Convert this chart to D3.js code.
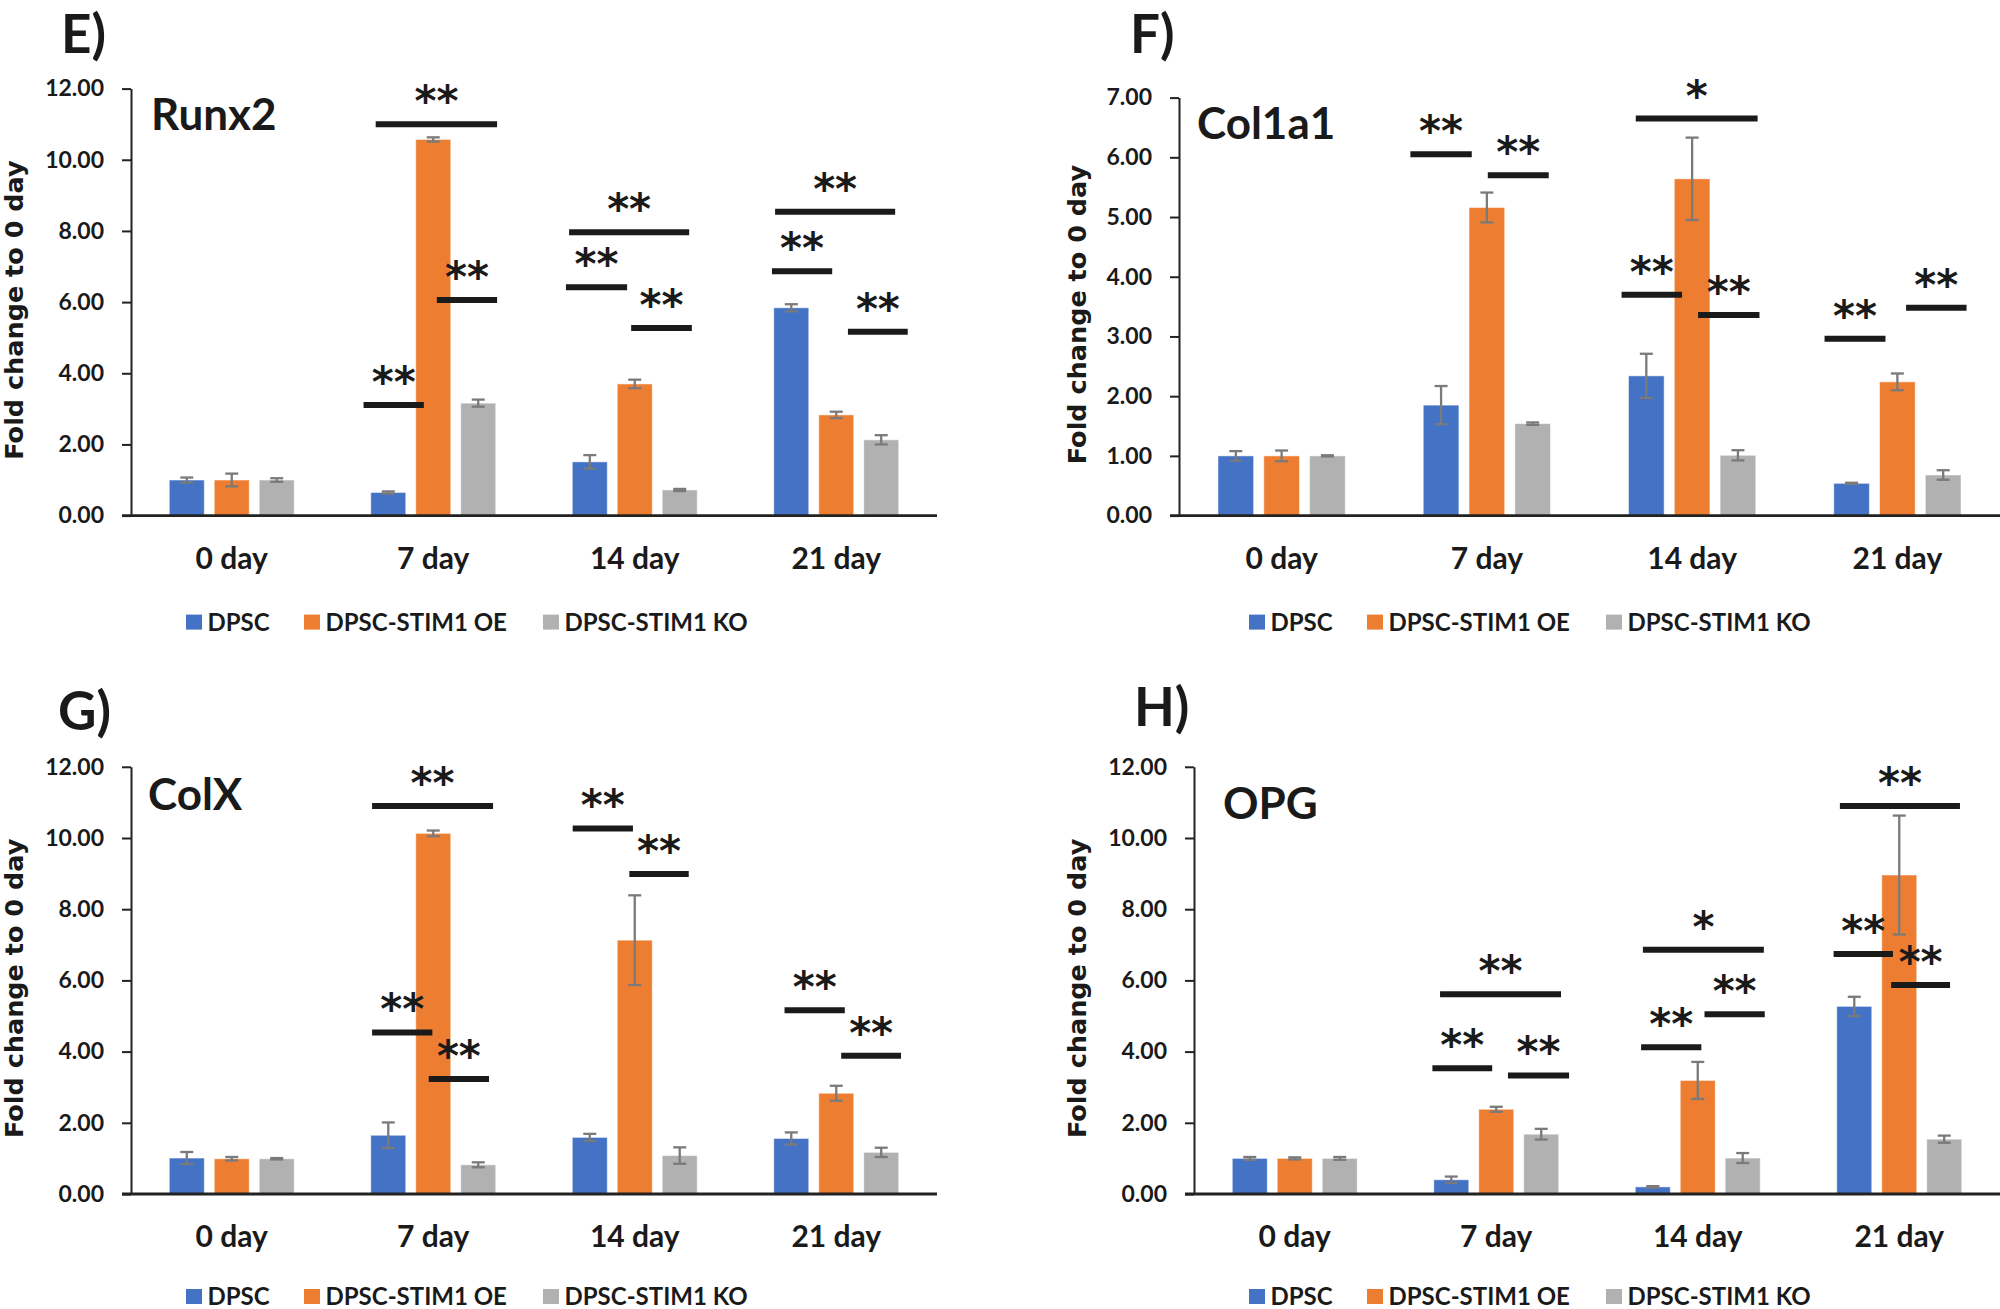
<!DOCTYPE html>
<html>
<head>
<meta charset="utf-8">
<script src="https://cdn.jsdelivr.net/npm/d3@7"></script>
<style>
  body { margin: 0; background: #fff; }
  text { font-family: Lato, "Open Sans", sans-serif; font-weight: bold; fill: #1a1a1a; }
</style>
</head>
<body>
<div id="chart"></div>
<script>
// categories and series
let categories = ["0 day", "7 day", "14 day", "21 day"];
let seriesNames = ["DPSC", "DPSC-STIM1 OE", "DPSC-STIM1 KO"];
let seriesColors = ["#4472C4", "#ED7D31", "#B1B1B1"];

// Runx2 (E): one row per series, one value per day
let runx2Mean = [[1.00, 0.65, 1.51, 5.84], [1.00, 10.57, 3.70, 2.83], [1.00, 3.16, 0.72, 2.13]];
let runx2Err  = [[0.07, 0.03, 0.19, 0.10], [0.18, 0.06, 0.12, 0.09], [0.05, 0.10, 0.03, 0.13]];
// significance bars: [day index, from, to (in bar slots from group centre), y value, label]
let runx2Sig = [
    [1, -1.28, 1.42, 11.00, "**"], [1, 0.08, 1.42, 6.06, "**"], [1, -1.55, -0.21, 3.11, "**"],
    [2, -1.46, 1.21, 7.96, "**"], [2, -1.53, -0.17, 6.42, "**"], [2, -0.08, 1.27, 5.27, "**"],
    [3, -1.36, 1.31, 8.54, "**"], [3, -1.43, -0.09, 6.87, "**"], [3, 0.26, 1.59, 5.17, "**"]
];

// Col1a1 (F)
let col1a1Mean = [[1.00, 1.85, 2.34, 0.54], [1.00, 5.16, 5.64, 2.24], [1.00, 1.54, 1.01, 0.68]];
let col1a1Err  = [[0.08, 0.32, 0.37, 0.01], [0.09, 0.25, 0.69, 0.14], [0.01, 0.02, 0.085, 0.08]];
let col1a1Sig = [
    [1, -1.67, -0.33, 6.05, "**"], [1, 0.02, 1.35, 5.70, "**"],
    [2, -1.23, 1.43, 6.65, "*"], [2, -1.54, -0.22, 3.70, "**"], [2, 0.13, 1.47, 3.36, "**"],
    [3, -1.59, -0.26, 2.96, "**"], [3, 0.19, 1.51, 3.48, "**"]
];

// ColX (G)
let colXMean = [[1.01, 1.65, 1.59, 1.56], [0.99, 10.13, 7.13, 2.83], [0.99, 0.82, 1.08, 1.17]];
let colXErr  = [[0.17, 0.36, 0.10, 0.17], [0.05, 0.08, 1.26, 0.21], [0.02, 0.07, 0.23, 0.13]];
let colXSig = [
    [1, -1.36, 1.33, 10.90, "**"], [1, -1.36, -0.02, 4.54, "**"], [1, -0.10, 1.24, 3.23, "**"],
    [2, -1.38, -0.04, 10.27, "**"], [2, -0.12, 1.20, 8.99, "**"],
    [3, -1.15, 0.19, 5.16, "**"], [3, 0.11, 1.44, 3.88, "**"]
];

// OPG (H)
let opgMean = [[1.00, 0.40, 0.20, 5.27], [1.00, 2.38, 3.19, 8.96], [1.00, 1.68, 1.01, 1.54]];
let opgErr  = [[0.04, 0.09, 0.02, 0.27], [0.03, 0.07, 0.52, 1.67], [0.04, 0.15, 0.14, 0.10]];
let opgSig = [
    [1, -1.25, 1.44, 5.61, "**"], [1, -1.42, -0.09, 3.53, "**"], [1, 0.26, 1.62, 3.33, "**"],
    [2, -1.22, 1.47, 6.86, "*"], [2, -1.26, 0.08, 4.12, "**"], [2, 0.15, 1.49, 5.05, "**"],
    [3, -1.32, 1.35, 10.90, "**"], [3, -1.46, -0.14, 6.74, "**"], [3, -0.18, 1.13, 5.87, "**"]
];

let svg = d3.select("#chart").append("svg")
    .attr("width", 2000)
    .attr("height", 1309)
    .style("background", "#fff");

// panel layout
let panels = [
    { letter: "E)", gene: "Runx2", mean: runx2Mean, err: runx2Err, sig: runx2Sig, yMax: 12, yStep: 2,
      left: 131, right: 937, bottom: 515.6, top: 88.6, letterX: 61, letterY: 53, geneX: 151, geneY: 130, labelX: 23, legendX: 186, legendDy: 106.5 },
    { letter: "F)", gene: "Col1a1", mean: col1a1Mean, err: col1a1Err, sig: col1a1Sig, yMax: 7, yStep: 1,
      left: 1179, right: 2000, bottom: 515.6, top: 97.6, letterX: 1130, letterY: 53, geneX: 1197, geneY: 139, labelX: 1086, legendX: 1249, legendDy: 106.5 },
    { letter: "G)", gene: "ColX", mean: colXMean, err: colXErr, sig: colXSig, yMax: 12, yStep: 2,
      left: 131, right: 937, bottom: 1194, top: 766.8, letterX: 58, letterY: 730, geneX: 148, geneY: 810, labelX: 23, legendX: 186, legendDy: 102.5 },
    { letter: "H)", gene: "OPG", mean: opgMean, err: opgErr, sig: opgSig, yMax: 12, yStep: 2,
      left: 1194, right: 2000, bottom: 1194, top: 766.8, letterX: 1134, letterY: 726, geneX: 1223, geneY: 819, labelX: 1086, legendX: 1249, legendDy: 102.5 }
];

panels.forEach(p => drawPanel(p));

function drawPanel(p) {
    let g = svg.append("g");

    let x = d3.scaleBand()
        .domain(categories)
        .range([p.left, p.right])
        .paddingInner(0)
        .paddingOuter(0);

    // bars sit in the middle of each category band
    let groupW = x.bandwidth() * 0.62;
    let xSeries = d3.scaleBand()
        .domain(seriesNames)
        .range([-groupW / 2, groupW / 2])
        .paddingInner(0.222)
        .paddingOuter(0);

    let y = d3.scaleLinear()
        .domain([0, p.yMax])
        .range([p.bottom, p.top]);

    // y axis
    let yAxis = g.append("g")
        .attr("transform", `translate(${p.left},0)`)
        .call(d3.axisLeft(y)
            .tickValues(d3.range(0, p.yMax + 0.001, p.yStep))
            .tickFormat(d3.format(".2f"))
            .tickSize(9)
            .tickSizeOuter(0)
            .tickPadding(18));
    yAxis.select(".domain").attr("stroke", "#222").attr("stroke-width", 2);
    yAxis.selectAll(".tick line").attr("stroke", "#222").attr("stroke-width", 2);
    yAxis.selectAll(".tick text")
        .style("font-family", "Lato, sans-serif")
        .style("font-weight", "bold")
        .style("font-size", "23px")
        .attr("fill", "#1a1a1a");

    // bars
    let rows = [];
    categories.forEach((c, ci) => {
        seriesNames.forEach((s, si) => {
            rows.push({ cat: c, series: s, si: si, value: p.mean[si][ci], err: p.err[si][ci] });
        });
    });

    let cx = d => x(d.cat) + x.bandwidth() / 2 + xSeries(d.series);

    g.selectAll(".bar")
        .data(rows)
        .join("rect")
        .attr("class", "bar")
        .attr("x", d => cx(d))
        .attr("y", d => y(d.value))
        .attr("width", xSeries.bandwidth())
        .attr("height", d => y(0) - y(d.value))
        .attr("fill", d => seriesColors[d.si])
        .attr("stroke", "#fff")
        .attr("stroke-opacity", 0.5)
        .attr("stroke-width", 1);

    // error bars
    let eb = g.selectAll(".err")
        .data(rows)
        .join("g")
        .attr("class", "err")
        .attr("stroke", "#7a7a7a")
        .attr("stroke-width", 2.3);
    let mid = d => cx(d) + xSeries.bandwidth() / 2;
    eb.append("line")
        .attr("x1", mid).attr("x2", mid)
        .attr("y1", d => y(d.value + d.err))
        .attr("y2", d => y(d.value - d.err));
    eb.append("line")
        .attr("x1", d => mid(d) - 6.5).attr("x2", d => mid(d) + 6.5)
        .attr("y1", d => y(d.value + d.err)).attr("y2", d => y(d.value + d.err));
    eb.append("line")
        .attr("x1", d => mid(d) - 6.5).attr("x2", d => mid(d) + 6.5)
        .attr("y1", d => y(d.value - d.err)).attr("y2", d => y(d.value - d.err));

    // x axis line
    g.append("line")
        .attr("x1", p.left - 9)
        .attr("x2", p.right)
        .attr("y1", y(0))
        .attr("y2", y(0))
        .attr("stroke", "#222")
        .attr("stroke-width", 2.8);

    // category labels
    g.selectAll(".cat")
        .data(categories)
        .join("text")
        .attr("class", "cat")
        .attr("x", d => x(d) + x.bandwidth() / 2)
        .attr("y", y(0) + 53)
        .attr("text-anchor", "middle")
        .style("font-size", "30px")
        .text(d => d);

    // significance bars
    let step = xSeries.step();
    let sig = g.selectAll(".sig")
        .data(p.sig)
        .join("g")
        .attr("class", "sig");
    sig.append("line")
        .attr("x1", d => x(categories[d[0]]) + x.bandwidth() / 2 + d[1] * step)
        .attr("x2", d => x(categories[d[0]]) + x.bandwidth() / 2 + d[2] * step)
        .attr("y1", d => y(d[3]))
        .attr("y2", d => y(d[3]))
        .attr("stroke", "#1a1a1a")
        .attr("stroke-width", 6);
    sig.append("text")
        .attr("x", d => x(categories[d[0]]) + x.bandwidth() / 2 + (d[1] + d[2]) / 2 * step)
        .attr("y", d => y(d[3]) - 8)
        .attr("text-anchor", "middle")
        .style("font-family", "'DejaVu Sans', sans-serif")
        .style("font-size", "42px")
        .text(d => d[4]);

    // gene title and panel letter
    g.append("text")
        .attr("x", p.geneX)
        .attr("y", p.geneY)
        .style("font-size", "44px")
        .text(p.gene);
    g.append("text")
        .attr("x", p.letterX)
        .attr("y", p.letterY)
        .style("font-size", "53px")
        .text(p.letter);

    // y label
    g.append("text")
        .attr("transform", `translate(${p.labelX},${(p.top + p.bottom) / 2 + 8}) rotate(-90)`)
        .attr("text-anchor", "middle")
        .style("font-family", "'DejaVu Sans', sans-serif")
        .style("font-size", "25.5px")
        .text("Fold change to 0 day");

    // legend
    let legendOffsets = [0, 118, 357];
    let legend = g.selectAll(".legend")
        .data(seriesNames)
        .join("g")
        .attr("class", "legend")
        .attr("transform", (d, i) => `translate(${p.legendX + legendOffsets[i]},${y(0) + p.legendDy})`);
    legend.append("rect")
        .attr("x", 0)
        .attr("y", -7.5)
        .attr("width", 16)
        .attr("height", 15)
        .attr("fill", (d, i) => seriesColors[i]);
    legend.append("text")
        .attr("x", 21.5)
        .attr("y", 8.5)
        .style("font-size", "24px")
        .text(d => d);
}
</script>
</body>
</html>
